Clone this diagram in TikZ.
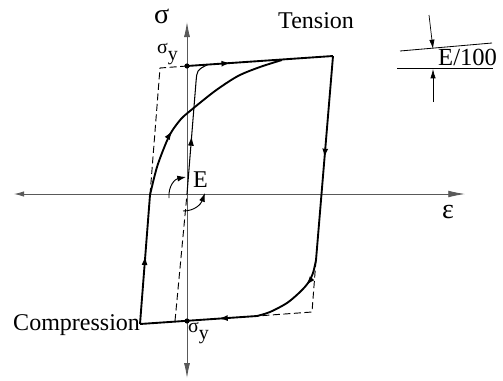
\documentclass[tikz,border=0pt]{standalone}
\usepackage{fontspec}
\setmainfont{Liberation Serif}
\usetikzlibrary{arrows.meta,decorations.markings}
\tikzset{
  loopline/.style={line width=1.6pt},
  axisline/.style={gray!70!black, line width=0.7pt},
  guide/.style={line width=0.8pt, dash pattern=on 6pt off 3pt},
  midarrow/.style={postaction={decorate},
    decoration={markings, mark=at position #1 with {\arrow{Latex[length=2.8mm,width=1.8mm]}}}},
  lbl/.style={font=\fontsize{20.5}{24}\selectfont, inner sep=0pt, anchor=base west},
}
\begin{document}
\begin{tikzpicture}[x=0.03cm, y=-0.03cm]
    \useasboundingbox (0,0) rectangle (503,380);
    % 坐标轴
    \coordinate (O) at (187,194);
    \draw[axisline, {Latex[length=3mm,width=1.6mm]}-{Latex[length=5mm,width=2mm]}] (14,194) -- (465,194);
    \draw[axisline, {Latex[length=4.5mm,width=1.8mm]}-{Latex[length=4.5mm,width=1.8mm]}] (187,378) -- (187,22);

    % 滞回环的角点
    \coordinate (TL) at (160,68);
    \coordinate (TR) at (333,56);
    \coordinate (BR) at (312,312);
    \coordinate (BL) at (140,324);
    \coordinate (Ytop) at (187,66);
    \coordinate (Ybot) at (187,321);
    \coordinate (L1) at (150,195);
    \coordinate (R1) at (316,260);
    \coordinate (B1) at (257,316);

    % 虚线: 理想双线性
    \draw[guide] (L1) -- (TL) -- (Ytop);
    \draw[guide] (R1) -- (BR) -- (B1);

    % 滞回环
    \draw[loopline, midarrow=0.3] (Ytop) -- (TR);
    \draw[loopline, midarrow=0.5] (TR) -- (R1);
    \draw[loopline, midarrow=0.32] plot[smooth] coordinates
        {(316,260) (313,273) (308,283) (300,292) (287,303) (270,312) (257,316)};
    \draw[loopline, midarrow=0.33] (B1) -- (BL);
    \draw[loopline, midarrow=0.53] (BL) -- (L1);
    \draw[loopline, midarrow=0.34] plot[smooth] coordinates
        {(150,195) (157,167) (166,143) (172,131) (181,119) (190,111) (215,91) (238,76) (260,67) (282,60)};

    % 弹性线 E
    \draw[guide] (175,321) -- (O);
    \draw[line width=0.9pt, midarrow=0.43] (O) -- (196,82) .. controls (197,70) .. (207,65);

    % 屈服点
    \fill (Ytop) circle[radius=2.2pt];
    \fill (Ybot) circle[radius=2.2pt];

    % 刚度 E 的弧形箭头
    \draw[line width=0.8pt, -{Latex[length=2.6mm,width=1.8mm]}] (169,198) .. controls (168,186) and (175,179) .. (186,177);
    \draw[line width=0.8pt, -{Latex[length=2.6mm,width=1.8mm]}] (183,211) .. controls (195,211) and (201,204) .. (205,193);

    % E/100 小图
    \draw[line width=0.7pt] (400,51) -- (492,43);
    \draw[line width=0.7pt] (397,68) -- (493,68);
    \draw[line width=0.6pt, -{Latex[length=2.8mm,width=1.6mm]}] (429,15) -- (433,49);
    \draw[line width=0.6pt, -{Latex[length=2.8mm,width=1.6mm]}] (433,102) -- (433,69);

    % 标签
    \node[lbl, font=\fontsize{24}{28}\selectfont] (sigma) at (154,23) {σ};
    \node[lbl] (tension) at (278,28) {Tension};
    \node[lbl] (compression) at (13,330) {Compression};
    \node[lbl, font=\fontsize{17}{20}\selectfont] (sigytop) at (157,53) {σ\raisebox{-6pt}{y}};
    \node[lbl, font=\fontsize{17}{20}\selectfont] (sigybot) at (188,332) {σ\raisebox{-6pt}{y}};
    \node[lbl] (E) at (193,187) {E};
    \node[lbl, font=\fontsize{24}{28}\selectfont] (eps) at (442,218) {ε};
    \node[lbl, font=\fontsize{21}{24}\selectfont] (Eratio) at (438,65) {E/100};
\end{tikzpicture}
\end{document}
